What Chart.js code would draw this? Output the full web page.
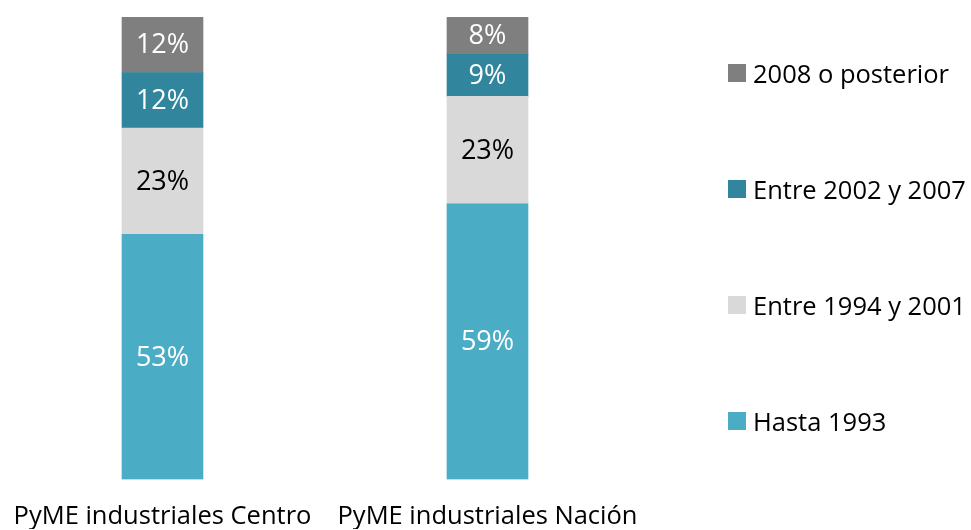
<!DOCTYPE html>
<html>
<head>
<meta charset="utf-8">
<script src="https://cdn.jsdelivr.net/npm/chart.js@4.4.1/dist/chart.umd.min.js"></script>
<style>
  html, body { margin: 0; padding: 0; background: #fff; }
  #wrap { position: relative; width: 971px; height: 530px; font-family: "Open Sans", sans-serif; }
  #legend { position: absolute; left: 728px; top: 15px; margin: 0; padding: 0; list-style: none; }
  #legend li { height: 116px; display: flex; align-items: center; font-size: 25.5px; color: #000; white-space: nowrap; }
  #legend .box { width: 18px; height: 18px; margin-right: 7px; flex: none; }
</style>
</head>
<body>
<div id="wrap">
  <canvas id="chart" width="971" height="530"></canvas>
  <ul id="legend"></ul>
</div>
<script>
// Values as printed on the bars (%)
const categories = ["PyME industriales Centro", "PyME industriales Nación"];
const seriesNames = ["Hasta 1993", "Entre 1994 y 2001", "Entre 2002 y 2007", "2008 o posterior"];
const hasta1993 = [53, 59];
const entre1994y2001 = [23, 23];
const entre2002y2007 = [12, 9];
const desde2008 = [12, 8];

const seriesValues = [hasta1993, entre1994y2001, entre2002y2007, desde2008];
const seriesColors = ["#4bacc6", "#d9d9d9", "#31859c", "#7f7f7f"];
const labelColors = ["#ffffff", "#000000", "#ffffff", "#ffffff"];

// 100% stacked: each bar is scaled to its own total
const totals = categories.map((c, i) => seriesValues.reduce((s, arr) => s + arr[i], 0));

const datasets = seriesNames.map((name, d) => ({
    label: name,
    data: seriesValues[d].map((v, i) => v / totals[i] * 100),
    shown: seriesValues[d],
    backgroundColor: seriesColors[d],
    borderWidth: 0,
    barThickness: 81
}));

// Percent labels in the middle of each segment
const segmentLabels = {
    id: "segmentLabels",
    afterDatasetsDraw(chart) {
        const ctx = chart.ctx;
        ctx.save();
        ctx.font = "27px 'Open Sans'";
        ctx.textAlign = "center";
        ctx.textBaseline = "middle";
        chart.data.datasets.forEach((ds, d) => {
            chart.getDatasetMeta(d).data.forEach((bar, i) => {
                const c = bar.getCenterPoint();
                ctx.fillStyle = labelColors[d];
                ctx.fillText(ds.shown[i] + "%", c.x, c.y + 1);
            });
        });
        ctx.restore();
    }
};

const chart = new Chart(document.getElementById("chart"), {
    type: "bar",
    data: { labels: categories, datasets: datasets },
    options: {
        responsive: false,
        animation: false,
        layout: { padding: { left: 0, right: 321, top: 17, bottom: 1 } },
        plugins: { legend: { display: false }, tooltip: { enabled: false } },
        scales: {
            x: {
                type: "category",
                offset: true,
                stacked: true,
                grid: { display: false, drawTicks: true, tickLength: 24 },
                border: { display: false },
                ticks: {
                    autoSkip: false,
                    maxRotation: 0,
                    padding: 0,
                    color: "#000",
                    font: { family: "'Open Sans'", size: 25.5, lineHeight: 1 }
                }
            },
            y: { stacked: true, min: 0, max: 100, display: false }
        }
    },
    plugins: [segmentLabels]
});

// Legend, top item first
const legend = document.getElementById("legend");
seriesNames.slice().reverse().forEach(name => {
    const d = seriesNames.indexOf(name);
    const li = document.createElement("li");
    li.innerHTML = `<span class="box" style="background:${seriesColors[d]}"></span><span>${name}</span>`;
    legend.appendChild(li);
});
</script>
</body>
</html>
